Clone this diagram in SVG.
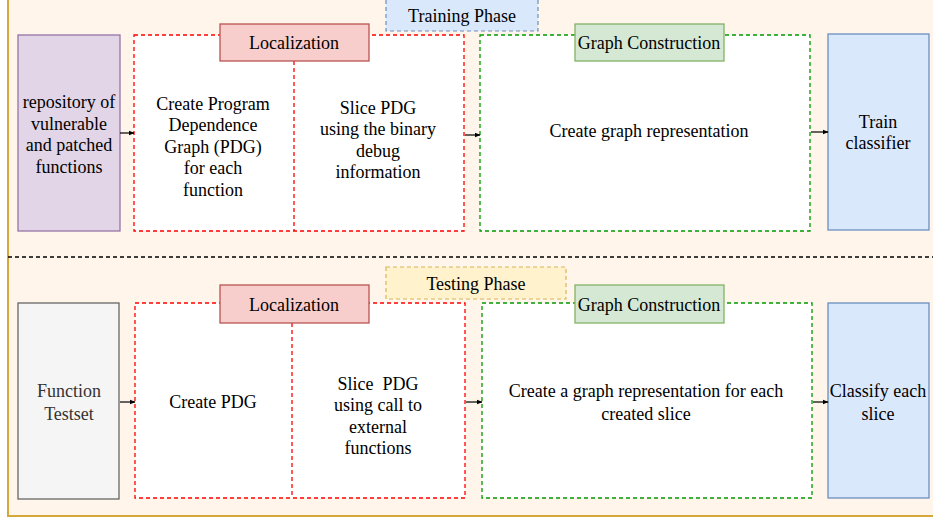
<svg xmlns="http://www.w3.org/2000/svg" width="933" height="518" viewBox="0 0 933 518">
<defs>
<marker id="ah" viewBox="0 0 10 10" refX="9" refY="5" markerWidth="5" markerHeight="5" orient="auto"><path d="M0,1 L10,5 L0,9 Z" fill="#000"/></marker>
<style>
text{font-family:"Liberation Serif","Times New Roman",serif;font-size:18px;fill:#000;text-anchor:middle}
.red{fill:#fff;stroke:#ff0000;stroke-width:1.3;stroke-dasharray:4 3}
.grn{fill:#fff;stroke:#009900;stroke-width:1.3;stroke-dasharray:4 3}
.loc{fill:#f8cecc;stroke:#b85450;stroke-width:1.3}
.gc{fill:#d5e8d4;stroke:#82b366;stroke-width:1.3}
.blue{fill:#dae8fc;stroke:#6c8ebf;stroke-width:1.3}
.conn{stroke:#000;stroke-width:1.2;fill:none;marker-end:url(#ah)}
</style>
</defs>
<rect x="8" y="-10" width="940" height="526" fill="#fff5eb" stroke="#d6a83a" stroke-width="2"/>
<line x1="8" y1="257" x2="933" y2="257" stroke="#000" stroke-width="1.3" stroke-dasharray="4 3"/>

<g id="training-phase"><rect x="386" y="-2" width="152" height="33" fill="#dae8fc" stroke="#6c8ebf" stroke-width="1.2" stroke-dasharray="4 3"/><text x="462" y="22">Training Phase</text></g>
<g id="repo"><rect x="18" y="35" width="102" height="196" fill="#e1d5e7" stroke="#9673a6" stroke-width="1.3"/>
<text x="69" y="108">repository of</text><text x="69" y="129.5">vulnerable</text><text x="69" y="151">and patched</text><text x="69" y="172.5">functions</text></g>
<g id="loc1"><rect class="red" x="134" y="35" width="330" height="196"/><line x1="294" y1="61" x2="294" y2="231" stroke="#ff0000" stroke-width="1.3" stroke-dasharray="4 3"/>
<rect class="loc" x="220" y="24" width="149" height="37"/><text x="294" y="49">Localization</text>
<text x="213" y="109.5">Create Program</text><text x="213" y="131">Dependence</text><text x="213" y="152.5">Graph (PDG)</text><text x="213" y="174">for each</text><text x="213" y="195.5">function</text>
<text x="378" y="113.5">Slice PDG</text><text x="378" y="135">using the binary</text><text x="378" y="156.5">debug</text><text x="378" y="178">information</text></g>
<g id="gc1"><rect class="grn" x="480" y="35" width="330" height="196"/>
<rect class="gc" x="575" y="24" width="149" height="37"/><text x="649" y="49">Graph Construction</text>
<text x="649" y="136.5">Create graph representation</text></g>
<g id="train"><rect class="blue" x="828" y="34" width="101" height="196"/><text x="878" y="127.5">Train</text><text x="878" y="149">classifier</text></g>

<g id="testing-phase"><rect x="386" y="267" width="180" height="32" fill="#fff2cc" stroke="#d6b656" stroke-width="1.2" stroke-dasharray="4 3"/><text x="476" y="289.5">Testing Phase</text></g>
<g id="testset"><rect x="18" y="303" width="101" height="196" fill="#f5f5f5" stroke="#666666" stroke-width="1.3"/>
<text x="69" y="396.5" style="fill:#333">Function</text><text x="69" y="419.5" style="fill:#333">Testset</text></g>
<g id="loc2"><rect class="red" x="135" y="303" width="330" height="195"/><line x1="292" y1="323" x2="292" y2="498" stroke="#ff0000" stroke-width="1.3" stroke-dasharray="4 3"/>
<rect class="loc" x="220" y="285" width="149" height="38"/><text x="294" y="311">Localization</text>
<text x="213" y="407.5">Create PDG</text>
<text x="378" y="389.5" xml:space="preserve">Slice  PDG</text><text x="378" y="411">using call to</text><text x="378" y="432.5">external</text><text x="378" y="454">functions</text></g>
<g id="gc2"><rect class="grn" x="482" y="303" width="330" height="195"/>
<rect class="gc" x="575" y="285" width="149" height="38"/><text x="649" y="311">Graph Construction</text>
<text x="646" y="396.5">Create a graph representation for each</text><text x="646" y="419.5">created slice</text></g>
<g id="classify"><rect class="blue" x="828" y="303" width="101" height="195"/><text x="878" y="396.5">Classify each</text><text x="878" y="419.5">slice</text></g>

<g id="connectors">
<line class="conn" x1="120" y1="133" x2="134" y2="133"/>
<line class="conn" x1="465" y1="135" x2="480" y2="135"/>
<line class="conn" x1="811" y1="132" x2="828" y2="132"/>
<line class="conn" x1="120" y1="402" x2="135" y2="402"/>
<line class="conn" x1="466" y1="402" x2="482" y2="402"/>
<line class="conn" x1="813" y1="402" x2="828" y2="402"/>
</g>
</svg>
